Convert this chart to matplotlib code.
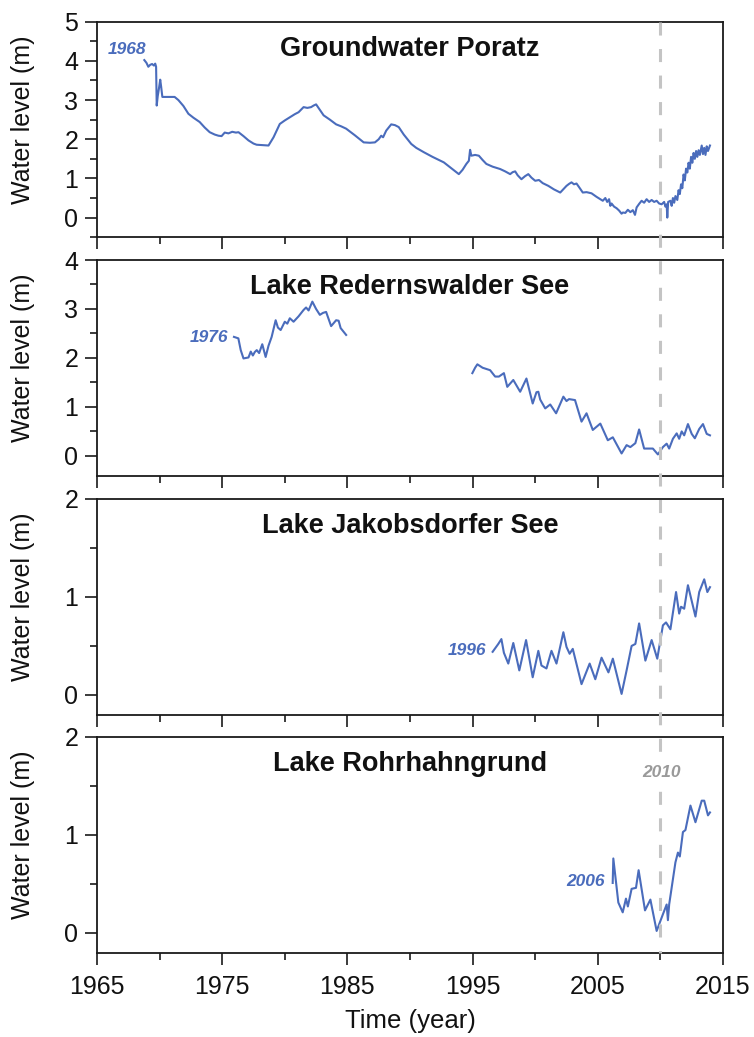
import numpy as np
import matplotlib
matplotlib.use("Agg")
import matplotlib.pyplot as plt
from matplotlib.lines import Line2D
from matplotlib.transforms import blended_transform_factory
from matplotlib.ticker import MultipleLocator

plt.rcParams['font.family'] = ['Liberation Sans', 'DejaVu Sans']

# ---- Groundwater Poratz ----
poratz_year = [1968.78, 1968.95, 1969.10, 1969.25, 1969.40, 1969.55, 1969.65, 1969.72, 1969.77,
               1969.85, 1969.95, 1970.05, 1970.12, 1970.22, 1970.6, 1971.2, 1971.5, 1971.9,
               1972.3, 1972.7, 1973.2, 1973.6, 1974.0, 1974.4, 1974.7, 1974.95, 1975.2, 1975.5,
               1975.8, 1976.1, 1976.3, 1976.7, 1977.1, 1977.5, 1977.75, 1978.2, 1978.7, 1979.1,
               1979.6, 1980.0, 1980.4, 1980.8, 1981.1, 1981.5, 1981.8, 1982.1, 1982.3, 1982.5,
               1982.8, 1983.1, 1983.6, 1984.1, 1984.5, 1984.9, 1985.6, 1986.3, 1986.8, 1987.2,
               1987.5, 1987.7, 1987.85, 1988.1, 1988.5, 1988.8, 1989.1, 1989.5, 1990.1, 1990.5,
               1991.1, 1991.8, 1992.7, 1993.3, 1993.9, 1994.2, 1994.5, 1994.7, 1994.8, 1994.9,
               1995.2, 1995.5, 1995.8, 1996.1, 1996.6, 1997.2, 1997.6, 1998.0, 1998.2, 1998.4,
               1998.6, 1998.9, 1999.2, 1999.45, 1999.7, 2000.0, 2000.3, 2000.6, 2001.05, 2001.5,
               2002.0, 2002.3, 2002.5, 2002.7, 2002.9, 2003.1, 2003.3, 2003.5, 2003.8, 2004.1,
               2004.5, 2004.9, 2005.4, 2005.6, 2005.75, 2005.9, 2006.0, 2006.1, 2006.3, 2006.5,
               2006.7, 2006.9, 2007.0, 2007.2, 2007.4, 2007.6, 2007.8, 2007.97, 2008.1, 2008.3,
               2008.5, 2008.7, 2008.9, 2009.1, 2009.3, 2009.5, 2009.7, 2009.9, 2010.1, 2010.3,
               2010.4, 2010.5, 2010.55, 2010.62, 2010.8, 2010.9, 2011.0, 2011.1, 2011.2, 2011.35,
               2011.45, 2011.55, 2011.65, 2011.75, 2011.85, 2011.95, 2012.05, 2012.15, 2012.25,
               2012.35, 2012.45, 2012.55, 2012.65, 2012.75, 2012.85, 2012.95, 2013.05, 2013.15,
               2013.3, 2013.4, 2013.5, 2013.6, 2013.7, 2013.8, 2013.96]
poratz_level = [4.02, 3.95, 3.85, 3.90, 3.92, 3.88, 3.93, 3.85, 2.86,
                3.10, 3.30, 3.52, 3.35, 3.08, 3.08, 3.08, 3.00, 2.85,
                2.65, 2.55, 2.44, 2.30, 2.18, 2.12, 2.09, 2.08, 2.17, 2.15,
                2.19, 2.17, 2.18, 2.08, 1.97, 1.89, 1.86, 1.85, 1.84, 2.05,
                2.39, 2.48, 2.56, 2.64, 2.69, 2.82, 2.80, 2.82, 2.86, 2.89,
                2.75, 2.61, 2.50, 2.38, 2.33, 2.27, 2.10, 1.92, 1.91, 1.92,
                2.00, 2.09, 2.05, 2.22, 2.38, 2.36, 2.31, 2.12, 1.88, 1.78,
                1.67, 1.55, 1.41, 1.26, 1.11, 1.22, 1.37, 1.45, 1.73, 1.58,
                1.60, 1.58, 1.47, 1.37, 1.30, 1.24, 1.18, 1.11, 1.16, 1.18,
                1.08, 0.98, 1.06, 1.11, 1.02, 0.94, 0.96, 0.88, 0.81, 0.72,
                0.64, 0.74, 0.81, 0.86, 0.90, 0.85, 0.87, 0.78, 0.64, 0.65,
                0.62, 0.53, 0.43, 0.50, 0.40, 0.47, 0.30, 0.36, 0.28, 0.24,
                0.18, 0.10, 0.13, 0.12, 0.20, 0.14, 0.19, 0.07, 0.26, 0.35,
                0.43, 0.38, 0.47, 0.40, 0.45, 0.40, 0.43, 0.36, 0.34, 0.40,
                0.28, 0.34, 0.00, 0.40, 0.43, 0.30, 0.50, 0.38, 0.55, 0.45,
                0.70, 0.60, 0.85, 0.75, 1.10, 0.95, 1.25, 1.15, 1.40,
                1.25, 1.55, 1.40, 1.65, 1.50, 1.70, 1.55, 1.72, 1.60,
                1.84, 1.62, 1.78, 1.60, 1.82, 1.70, 1.84]

# ---- Lake Redernswalder See (two measurement periods) ----
redern_year_a = [1975.94, 1976.29, 1976.48, 1976.7, 1976.9, 1977.1, 1977.28, 1977.45, 1977.6,
                 1977.76, 1977.95, 1978.2, 1978.47, 1978.7, 1978.95, 1979.27, 1979.45, 1979.67,
                 1980.0, 1980.2, 1980.4, 1980.7, 1981.1, 1981.5, 1981.7, 1981.9, 1982.2, 1982.5,
                 1982.8, 1983.05, 1983.3, 1983.7, 1984.1, 1984.3, 1984.46, 1984.9]
redern_level_a = [2.43, 2.40, 2.16, 1.99, 2.00, 2.01, 2.13, 2.05, 2.12,
                  2.16, 2.10, 2.28, 2.02, 2.25, 2.43, 2.77, 2.62, 2.57,
                  2.74, 2.70, 2.81, 2.74, 2.85, 2.98, 3.03, 2.97, 3.15, 3.00,
                  2.88, 2.92, 2.94, 2.65, 2.77, 2.76, 2.61, 2.47]
redern_year_b = [1994.98, 1995.2, 1995.38, 1995.8, 1996.4, 1996.8, 1997.1, 1997.5, 1997.77,
                 1998.25, 1998.8, 1999.3, 1999.8, 2000.1, 2000.25, 2000.4, 2000.8, 2001.2,
                 2001.67, 2002.25, 2002.5, 2002.7, 2003.18, 2003.7, 2004.1, 2004.6, 2005.2,
                 2005.8, 2006.2, 2006.9, 2007.3, 2007.6, 2008.0, 2008.3, 2008.7, 2009.4,
                 2009.8, 2010.2, 2010.5, 2010.7, 2011.0, 2011.3, 2011.5, 2011.7, 2011.9,
                 2012.2, 2012.5, 2012.75, 2013.1, 2013.4, 2013.7, 2013.96]
redern_level_b = [1.69, 1.80, 1.87, 1.80, 1.75, 1.62, 1.62, 1.69, 1.41,
                  1.55, 1.31, 1.58, 1.07, 1.30, 1.31, 1.15, 0.97, 1.05,
                  0.87, 1.21, 1.12, 1.16, 1.14, 0.70, 0.87, 0.53, 0.66,
                  0.32, 0.38, 0.05, 0.22, 0.18, 0.26, 0.54, 0.15, 0.15,
                  0.03, 0.18, 0.25, 0.15, 0.35, 0.46, 0.35, 0.50, 0.42,
                  0.65, 0.45, 0.36, 0.55, 0.65, 0.45, 0.42]

# ---- Lake Jakobsdorfer See ----
jakobs_year = [1996.6, 1997.05, 1997.3, 1997.5, 1997.85, 1998.25, 1998.73, 1999.27, 1999.8,
               2000.25, 2000.5, 2000.9, 2001.3, 2001.7, 2002.25, 2002.5, 2002.75, 2003.0,
               2003.7, 2004.35, 2004.8, 2005.3, 2005.85, 2006.2, 2006.9, 2007.3, 2007.7,
               2008.0, 2008.3, 2008.8, 2009.3, 2009.75, 2010.2, 2010.45, 2010.8, 2011.25,
               2011.5, 2011.65, 2011.9, 2012.2, 2012.8, 2013.1, 2013.5, 2013.75, 2013.96]
jakobs_level = [0.44, 0.52, 0.57, 0.43, 0.32, 0.53, 0.25, 0.56, 0.18,
                0.45, 0.30, 0.27, 0.45, 0.32, 0.64, 0.49, 0.42, 0.47,
                0.11, 0.32, 0.16, 0.38, 0.23, 0.37, 0.01, 0.25, 0.50,
                0.52, 0.73, 0.35, 0.56, 0.37, 0.71, 0.74, 0.67, 1.05,
                0.83, 0.90, 0.88, 1.12, 0.80, 1.05, 1.18, 1.05, 1.10]

# ---- Lake Rohrhahngrund ----
rohr_year = [2006.19, 2006.24, 2006.64, 2006.99, 2007.25, 2007.4, 2007.7, 2008.05, 2008.26,
             2008.77, 2009.2, 2009.7, 2010.2, 2010.5, 2010.6, 2010.7, 2011.2, 2011.4,
             2011.55, 2011.8, 2012.0, 2012.4, 2012.8, 2013.3, 2013.5, 2013.8, 2013.96]
rohr_level = [0.51, 0.76, 0.31, 0.21, 0.35, 0.27, 0.45, 0.46, 0.64,
              0.23, 0.34, 0.02, 0.19, 0.29, 0.13, 0.29, 0.72, 0.82,
              0.78, 1.03, 1.05, 1.30, 1.13, 1.35, 1.35, 1.20, 1.23]

titles = ["Groundwater Poratz", "Lake Redernswalder See",
          "Lake Jakobsdorfer See", "Lake Rohrhahngrund"]
start_labels = ["1968", "1976", "1996", "2006"]
start_label_pos = [(1968.9, 4.29), (1975.46, 2.42), (1996.07, 0.45), (2005.57, 0.52)]
y_limits = [(-0.5, 5), (-0.4, 4), (-0.2, 2), (-0.2, 2)]
y_major = [1, 1, 1, 1]
x_ticks = [1965, 1975, 1985, 1995, 2005, 2015]
marker_year = 2010

blue = "#4a6cbc"
grey_text = "#9a9a9a"
grey_line = "#c4c4c4"
axis_col = "#1a1a1a"

W, H = 754, 1037
fig = plt.figure(figsize=(W / 100, H / 100), dpi=100)

left_px, right_px = 97, 723
panel_h = 215.5
tops = [21.7, 260.0, 499.0, 737.0]

axes = []
for top in tops:
    bottom = H - (top + panel_h)
    ax = fig.add_axes([left_px / W, bottom / H, (right_px - left_px) / W, panel_h / H])
    axes.append(ax)

series = [
    [(poratz_year, poratz_level)],
    [(redern_year_a, redern_level_a), (redern_year_b, redern_level_b)],
    [(jakobs_year, jakobs_level)],
    [(rohr_year, rohr_level)],
]

for i, ax in enumerate(axes):
    for yrs, lv in series[i]:
        ax.plot(yrs, lv, color=blue, lw=1.5, solid_joinstyle='round')
    ax.set_xlim(1965, 2015)
    ax.set_xticks(x_ticks)
    ax.xaxis.set_minor_locator(MultipleLocator(5))
    ax.yaxis.set_major_locator(MultipleLocator(y_major[i]))
    ax.yaxis.set_minor_locator(MultipleLocator(0.5))
    ax.set_ylim(*y_limits[i])
    for s in ax.spines.values():
        s.set_linewidth(1.3)
        s.set_color(axis_col)
    ax.tick_params(axis='both', which='major', direction='out', length=8.5, width=1.2,
                   color=axis_col, labelsize=18, labelcolor='#111111')
    ax.tick_params(axis='both', which='minor', direction='out', length=5, width=1.2,
                   color=axis_col)
    ax.tick_params(axis='y', which='major', pad=5)
    ax.tick_params(axis='x', which='major', pad=8)
    ax.tick_params(top=False, right=False, which='both')
    if i < 3:
        ax.tick_params(axis='x', labelbottom=False)
    ax.set_ylabel("Water level (m)", fontsize=18, color='#111111')
    lo, hi = y_limits[i]
    ax.yaxis.set_label_coords(-0.099, (hi / 2 - lo) / (hi - lo))
    ax.text(0.5, 0.875, titles[i], transform=ax.transAxes, ha='center', va='center',
            fontsize=19.5, fontweight='bold', color='#111111')
    lx, ly = start_label_pos[i]
    ax.text(lx, ly, start_labels[i], ha='right', va='center', color=blue,
            fontsize=12.5, fontweight='bold', fontstyle='italic')

axes[-1].set_xlabel("Time (year)", fontsize=18.5, color='#111111')
axes[-1].xaxis.set_label_coords(0.5, -0.262)

# vertical reference line through all panels
trans = blended_transform_factory(axes[-1].transData, fig.transFigure)
y_top = 1 - tops[0] / H
y_bot = 1 - (tops[-1] + panel_h) / H
lw_dash = 2.2
fig.add_artist(Line2D([marker_year, marker_year], [y_top, y_bot], transform=trans,
                      color=grey_line, lw=lw_dash, linestyle=(0, (9.4 / lw_dash, 9.7 / lw_dash)),
                      zorder=3))
fig.text(2010.08, 1.64, str(marker_year), transform=axes[-1].transData, ha='center', va='center',
         color=grey_text, fontsize=12.5, fontweight='bold', fontstyle='italic', zorder=4,
         bbox=dict(facecolor='white', edgecolor='none', pad=1.5))

fig.savefig("out.png", dpi=100)
